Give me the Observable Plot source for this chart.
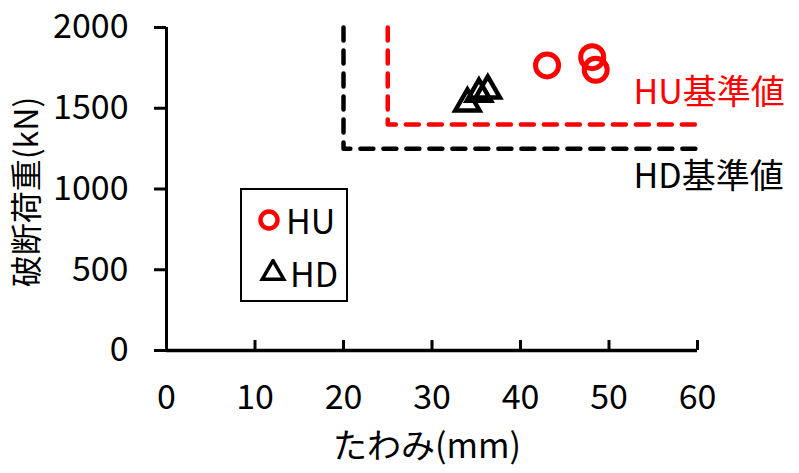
<!DOCTYPE html>
<html>
<head>
<meta charset="utf-8">
<script src="https://cdn.jsdelivr.net/npm/d3@7"></script>
<script src="https://cdn.jsdelivr.net/npm/@observablehq/plot@0.6"></script>
<style>
  html, body { margin: 0; padding: 0; background: #fff; }
  #wrap { position: relative; width: 799px; height: 473px; font-family: "Noto Sans CJK JP", "Noto Sans", sans-serif; }
  #legend { position: absolute; left: 240px; top: 188px; width: 104px; height: 110px; border: 2px solid #000; background: #fff; font-size: 34px; }
  .item { position: absolute; left: 0; display: flex; align-items: center; }
  .item svg { display: block; }
</style>
</head>
<body>
<div id="wrap"></div>
<script>
// ---- data ----
const xTicks = [0, 10, 20, 30, 40, 50, 60];
const yTicks = [0, 500, 1000, 1500, 2000];
const xLabel = "たわみ(mm)";
const yLabel = "破断荷重(kN)";

const huX = [43.0, 48.1, 48.5];
const huY = [1765, 1816, 1738];
const hdX = [34.0, 35.3, 36.3];
const hdY = [1530, 1590, 1610];

// reference (standard value) lines
const huRefX = [25, 25, 60];
const huRefY = [2000, 1400, 1400];
const hdRefX = [20, 20, 60];
const hdRefY = [2000, 1250, 1250];

const refNames = ["HU基準値", "HD基準値"];
const refLabelX = [60, 60];
const refLabelY = [1400, 1250];

const seriesNames = ["HU", "HD"];

// ---- build tables ----
const hu = huX.map((x, i) => ({x, y: huY[i]}));
const hd = hdX.map((x, i) => ({x, y: hdY[i]}));
const huRef = huRefX.map((x, i) => ({x, y: huRefY[i]}));
const hdRef = hdRefX.map((x, i) => ({x, y: hdRefY[i]}));
const refLabels = refNames.map((t, i) => ({t, x: refLabelX[i], y: refLabelY[i]}));

const RED = "#ff0000";

const chart = Plot.plot({
  width: 799,
  height: 473,
  marginLeft: 166,
  marginRight: 102,
  marginTop: 27,
  marginBottom: 123,
  x: {domain: [0, 60]},
  y: {domain: [0, 2000]},
  style: {fontFamily: "'Noto Sans CJK JP', 'Noto Sans', sans-serif", fontSize: "34px", color: "#000", background: "#fff", overflow: "visible"},
  marks: [
    Plot.axisY(yTicks, {tickSize: 12, tickPadding: 26, strokeWidth: 3, fontSize: 34, label: null, tickFormat: d => String(d)}),
    Plot.axisX(xTicks.slice(1), {tickSize: -10, strokeWidth: 3, text: null, label: null}),
    Plot.axisX(xTicks, {tickSize: 0, tickPadding: 34, fontSize: 34, label: null, tickFormat: d => String(d)}),
    Plot.ruleY([0], {stroke: "#000", strokeWidth: 3.5}),
    Plot.ruleX([0], {stroke: "#000", strokeWidth: 3}),
    Plot.line(hdRef, {x: "x", y: "y", stroke: "#000", strokeWidth: 4.5, strokeDasharray: "13,10", strokeLinecap: "round", strokeLinejoin: "round"}),
    Plot.line(huRef, {x: "x", y: "y", stroke: RED, strokeWidth: 4.5, strokeDasharray: "13,10", strokeLinecap: "round", strokeLinejoin: "round"}),
    Plot.text(refLabels.slice(0, 1), {x: "x", y: "y", text: "t", fill: RED, textAnchor: "start", dx: -64, dy: -31, fontSize: 34}),
    Plot.text(refLabels.slice(1), {x: "x", y: "y", text: "t", fill: "#000", textAnchor: "start", dx: -64, dy: 28, fontSize: 34}),
    Plot.dot(hd, {x: "x", y: "y", symbol: "triangle", r: 9, stroke: "#000", strokeWidth: 4.5, fill: "none"}),
    Plot.dot(hu, {x: "x", y: "y", symbol: "circle", r: 11.5, stroke: RED, strokeWidth: 5, fill: "none"}),
    Plot.text([xLabel], {frameAnchor: "bottom", textAnchor: "middle", lineAnchor: "middle", dx: -5, dy: 97, fontSize: 34, fill: "#000"}),
    Plot.text([yLabel], {frameAnchor: "left", textAnchor: "middle", lineAnchor: "middle", rotate: -90, dx: -139, dy: 3, fontSize: 32, fill: "#000"})
  ]
});

const wrap = document.getElementById("wrap");
wrap.appendChild(chart);

// legend
const legend = document.createElement("div");
legend.id = "legend";
const sym = [
  `<svg width="26" height="26" viewBox="-13 -13 26 26"><circle r="8.5" fill="none" stroke="${RED}" stroke-width="4.5"/></svg>`,
  `<svg width="28" height="28" viewBox="-14 -14 28 28">${'<path d="' + d3.symbol(d3.symbolTriangle, 200)() + '" fill="none" stroke="#000" stroke-width="3.5" stroke-linejoin="miter"/>'}</svg>`
];
seriesNames.forEach((name, i) => {
  const it = document.createElement("div");
  it.className = "item";
  it.style.top = (i === 0 ? 10 : 63) + "px";
  it.style.left = (i === 0 ? 14 : 17) + "px";
  it.innerHTML = sym[i] + `<span style="margin-left:${i === 0 ? 4 : 3}px; line-height:40px;">${name}</span>`;
  legend.appendChild(it);
});
wrap.appendChild(legend);
</script>
</body>
</html>
